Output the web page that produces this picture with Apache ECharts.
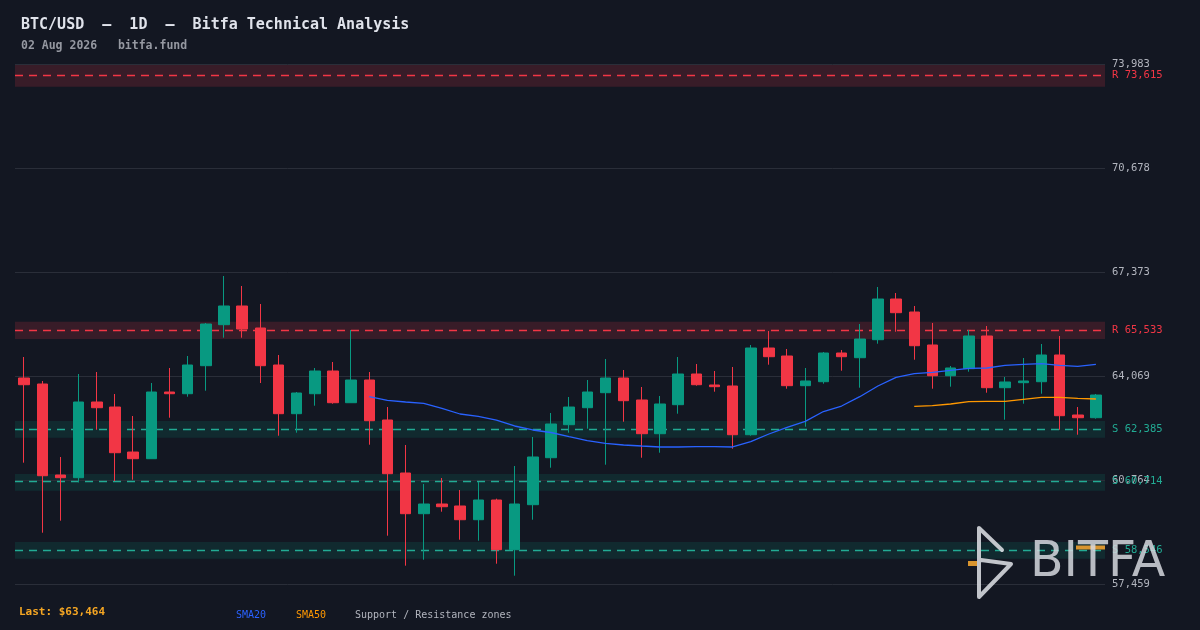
<!DOCTYPE html>
<html>
<head>
<meta charset="utf-8">
<style>
html,body{margin:0;padding:0;background:#131722;}
#chart{width:1200px;height:630px;}
</style>
<script src="https://cdn.jsdelivr.net/npm/echarts@6/dist/echarts.min.js"></script>
</head>
<body>
<div id="chart"></div>
<script>
// ---- data ----
const opens  = [64005,63814,60923,60837,63242,63083,61653,61441,63560,63506,
                64396,65699,66293,65594,64418,62871,63506,64227,63220,63941,
                62670,60986,59693,60001,59938,59502,60128,58549,59979,61472,
                62521,63061,63538,64005,63306,62235,63157,64132,63783,63751,
                62203,64958,64704,63761,63887,64799,64650,65222,66515,66102,
                65054,64078,64301,65340,63697,63856,63887,64736,62829,62743];
const closes = [63792,60900,60837,63242,63061,61631,61441,63560,63506,64418,
                65721,66293,65562,64396,62871,63528,64227,63220,63941,62648,
                60964,59693,60001,59915,59502,60128,58549,60001,61495,62543,
                63083,63560,64005,63284,62235,63179,64132,63792,63729,62203,
                64958,64682,63761,63910,64799,64682,65244,66515,66080,65031,
                64078,64323,65340,63697,63878,63910,64736,62807,62743,63464];
const lows   = [61314,59089,59471,60691,62362,60732,60773,61441,62743,63411,
                63601,65286,65286,63846,62171,62267,63125,63188,63220,61885,
                58994,58041,58231,59756,58867,58835,58104,57723,59502,61155,
                62267,62394,61250,62616,61472,61631,62871,63761,63570,61758,
                62171,64428,63665,62457,63824,64237,63697,65095,65476,64586,
                63665,63729,64205,63538,62680,63188,63506,62362,62203,62712];
const highs  = [64672,63910,61495,64132,64196,63497,62798,63846,64323,64704,
                65753,67246,66929,66357,64736,63560,64323,64513,65530,64196,
                63083,61876,60637,60827,60446,60700,60170,61209,62130,62893,
                63401,63941,64609,64259,63719,63433,64672,64450,64227,64355,
                65054,65499,64927,64323,64831,64895,65721,66897,66706,66293,
                65753,64386,65530,65657,64037,64641,65085,65340,63083,63497];
const sma20Values = [63411,63296,63242,63201,63042,62861,62788,62670,62480,62353,
                     62273,62140,62013,61930,61876,61844,61813,61813,61822,61822,
                     61813,61981,62226,62438,62629,62940,63115,63411,63751,64027,
                     64142,64186,64250,64313,64323,64409,64440,64459,64409,64377,64440];
const sma50Values = [63106,63125,63179,63252,63265,63265,63328,63392,63392,63360,63338];
const yTicks = [57459,60764,64069,67373,70678,73983];
const resistance = [73615,65533];
const resistanceZones = [[73262,73951],[65245,65794]];
const support = [62385,60714,58546];
const supportZones = [[62108,62639],[60424,60954],[58263,58794]];
const lastPrice = 63464;

// categories: 60 daily dates ending 02 Aug 2026
const dates = [];
(function(){
  const d = new Date(Date.UTC(2026,5,4));
  for (let i = 0; i < opens.length; i++) {
    dates.push(d.toISOString().slice(0,10));
    d.setUTCDate(d.getUTCDate()+1);
  }
})();

const candleData = opens.map((o,i)=>[o, closes[i], lows[i], highs[i]]);
const sma20 = new Array(opens.length - sma20Values.length).fill(null).concat(sma20Values);
const sma50 = new Array(opens.length - sma50Values.length).fill(null).concat(sma50Values);

const fmt = v => Math.round(v).toLocaleString('en-US');
const MONO = '"DejaVu Sans Mono", "Liberation Mono", monospace';
const RED = '#f23645', GREEN = '#089981', TEAL = '#22ab94';

function levelSeries(name, values, zones, prefix, lineColor, zoneColor, labelColor, dashed) {
  return {
    name: name, type:'line', data:[], z:1, silent:true,
    markArea: zones ? {silent:true, z:1, itemStyle:{color:zoneColor}, data: zones.map(z => [{yAxis:z[0]},{yAxis:z[1]}])} : undefined,
    markLine:{
      silent:true, z:2, symbol:['none','none'], animation:false,
      lineStyle:{color:lineColor, type: dashed ? [8,6] : 'solid', width: dashed ? 1.3 : 1, opacity:1},
      emphasis:{disabled:true},
      label:{position:'end', distance:7, fontFamily:MONO, fontSize:10.5, color:labelColor,
             formatter: p => prefix + fmt(p.value)},
      data: values.map(v => ({yAxis:v}))
    }
  };
}

const chart = echarts.init(document.getElementById('chart'), null, {renderer:'canvas'});
chart.setOption({
  backgroundColor:'#131722',
  animation:false,
  title:{
    text:'BTC/USD  —  1D  —  Bitfa Technical Analysis',
    subtext:'02 Aug 2026   bitfa.fund',
    left:16, top:13, itemGap:7,
    textStyle:{color:'#e0e3eb', fontSize:15, fontWeight:'bold', fontFamily:MONO},
    subtextStyle:{color:'#9598a1', fontSize:11.5, fontWeight:'bold', fontFamily:MONO}
  },
  grid:{left:15, right:95, top:64, bottom:46},
  xAxis:{
    type:'category', data:dates, boundaryGap:true,
    axisLine:{show:false}, axisTick:{show:false}, axisLabel:{show:false}, splitLine:{show:false}
  },
  yAxis:{
    type:'value', position:'right', min:yTicks[0], max:yTicks[yTicks.length-1],
    axisLine:{show:false}, axisTick:{show:false}, axisLabel:{show:false}, splitLine:{show:false}
  },
  series:[
    levelSeries('grid', yTicks, null, '', '#2a2e39', null, '#b2b5be', false),
    levelSeries('resistance', resistance, resistanceZones, 'R ', RED, 'rgba(242,54,69,0.17)', RED, true),
    levelSeries('support', support, supportZones, 'S ', TEAL, 'rgba(8,153,129,0.15)', TEAL, true),
    {
      name:'BTC', type:'candlestick', data:candleData, z:3, barWidth:11,
      itemStyle:{color:GREEN, color0:RED, borderColor:GREEN, borderColor0:RED, borderWidth:1}
    },
    {
      name:'SMA20', type:'line', data:sma20, z:4, showSymbol:false, symbol:'none',
      lineStyle:{color:'#2962ff', width:1.3}
    },
    {
      name:'SMA50', type:'line', data:sma50, z:4, showSymbol:false, symbol:'none',
      lineStyle:{color:'#ff9800', width:1.3}
    }
  ],
  graphic:[
    {type:'text', left:19, top:607, style:{text:'Last: $' + fmt(lastPrice), fill:'#f5a623', font:'bold 11px ' + MONO}},
    {type:'text', left:236, top:610, style:{text:'SMA20', fill:'#2962ff', font:'10px ' + MONO}},
    {type:'text', left:296, top:610, style:{text:'SMA50', fill:'#ff9800', font:'10px ' + MONO}},
    {type:'text', left:355, top:610, style:{text:'Support / Resistance zones', fill:'#b2b5be', font:'10px ' + MONO}},
    // watermark
    {type:'rect', shape:{x:968, y:561, width:9, height:5}, style:{fill:'#d9952f'}, z:10},
    {type:'rect', shape:{x:1076, y:545.5, width:29, height:4}, style:{fill:'#d9952f'}, z:10},
    {type:'polyline', shape:{points:[[1002,550],[979,528],[979,597],[1011,564],[981,560]]},
      style:{stroke:'rgba(214,216,222,0.9)', lineWidth:4, fill:null, lineJoin:'round', lineCap:'round'}, z:11},
    {type:'text', x:1030, y:563, style:{text:'BITFA', fill:'rgba(214,216,222,0.85)', font:'49px "DejaVu Sans", sans-serif', verticalAlign:'middle'}, z:11}
  ]
});
</script>
</body>
</html>
